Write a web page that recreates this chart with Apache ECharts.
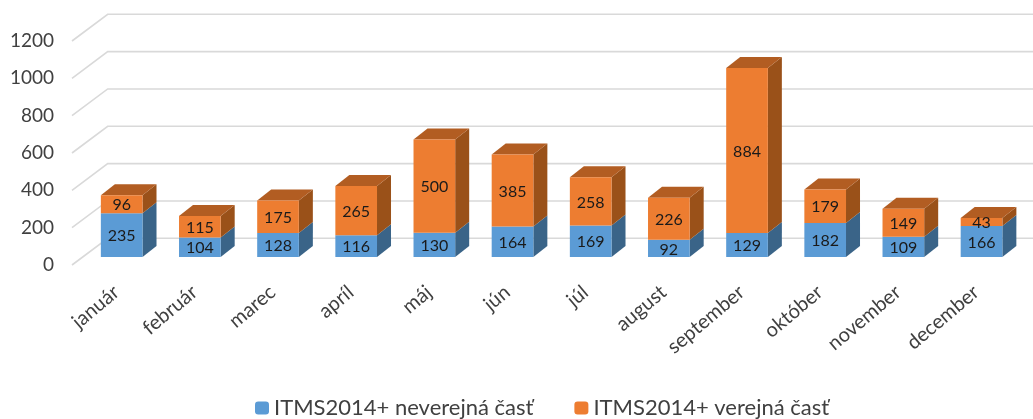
<!DOCTYPE html>
<html lang="sk">
<head>
    <meta charset="UTF-8">
    <title>ITMS2014+</title>
    <script src="https://cdn.jsdelivr.net/npm/echarts@6/dist/echarts.min.js"></script>
    <style>
        html, body { margin: 0; padding: 0; background: #fff; overflow: hidden; }
        #chart { width: 1033px; height: 419px; }
    </style>
</head>
<body>
    <div id="chart"></div>
    <script>
        var months = ['január', 'február', 'marec', 'apríl', 'máj', 'jún', 'júl', 'august', 'september', 'október', 'november', 'december'];
        var neverejna = [235, 104, 128, 116, 130, 164, 169, 92, 129, 182, 109, 166];
        var verejna = [96, 115, 175, 265, 500, 385, 258, 226, 884, 179, 149, 43];
        var yTicks = [0, 200, 400, 600, 800, 1000, 1200];

        var fontName = 'Lato, "Open Sans", sans-serif';
        var textColor = '#404040';

        // pseudo 3D: the grid is the front plane, bars stand a bit deeper, gridlines on the back wall
        var wallDx = 35.7, wallDy = -26.7;
        var barDx = 10.6, barDy = -8;
        var sideDx = 14, sideDy = -11;
        var barRatio = 0.533;

        function gridItem(params, api) {
            var left = params.coordSys.x;
            var right = left + params.coordSys.width;
            var y = api.coord([0, api.value(1)])[1];
            return {
                type: 'polyline',
                shape: { points: [[left, y], [left + wallDx, y + wallDy], [right + wallDx, y + wallDy]] },
                style: { stroke: '#D9D9D9', lineWidth: 1.6, fill: null }
            };
        }

        function barItem(colors, hasTop) {
            return function (params, api) {
                var value = api.value(1);
                var base = api.value(2);
                var bottom = api.coord([api.value(0), base]);
                var top = api.coord([api.value(0), base + value]);
                var w = api.size([1, 0])[0] * barRatio;
                var x0 = bottom[0] + barDx - w / 2;
                var x1 = x0 + w;
                var y0 = bottom[1] + barDy;
                var y1 = top[1] + barDy;
                var children = [
                    {
                        type: 'polygon',
                        shape: { points: [[x1, y0], [x1 + sideDx, y0 + sideDy], [x1 + sideDx, y1 + sideDy], [x1, y1]] },
                        style: { fill: colors.side }
                    }
                ];
                if (hasTop) {
                    children.push({
                        type: 'polygon',
                        shape: { points: [[x0, y1], [x0 + sideDx, y1 + sideDy], [x1 + sideDx, y1 + sideDy], [x1, y1]] },
                        style: { fill: colors.top }
                    });
                }
                children.push({
                    type: 'rect',
                    shape: { x: x0, y: y1, width: w, height: y0 - y1 },
                    style: { fill: colors.front }
                });
                children.push({
                    type: 'text',
                    z2: 10,
                    style: {
                        x: (x0 + x1) / 2,
                        y: (y0 + y1) / 2 + 1,
                        text: String(value),
                        fill: '#1a1a1a',
                        font: '16px ' + fontName,
                        align: 'center',
                        verticalAlign: 'middle'
                    }
                });
                return { type: 'group', children: children };
            };
        }

        var blueData = neverejna.map(function (v, i) { return [i, v, 0]; });
        var orangeData = verejna.map(function (v, i) { return [i, v, neverejna[i]]; });
        var gridData = yTicks.map(function (v) { return [0, v]; });

        var chart = echarts.init(document.getElementById('chart'), null, { renderer: 'canvas' });
        chart.setOption({
            animation: false,
            backgroundColor: '#fff',
            grid: { left: 72, right: 23, top: 41, bottom: 154 },
            legend: {
                data: ['ITMS2014+ neverejná časť', 'ITMS2014+ verejná časť'],
                left: 250,
                top: 392,
                itemWidth: 14,
                itemHeight: 13,
                itemGap: 41,
                textStyle: { fontFamily: fontName, fontSize: 22, color: textColor }
            },
            xAxis: {
                type: 'category',
                data: months,
                axisLine: { show: false },
                axisTick: { show: false },
                axisLabel: { rotate: 40, interval: 0, margin: 29, padding: [0, -7, 0, 0], fontFamily: fontName, fontSize: 20, color: textColor }
            },
            yAxis: {
                type: 'value',
                min: 0,
                max: 1200,
                interval: 200,
                splitLine: { show: false },
                axisLine: { show: false },
                axisTick: { show: false },
                axisLabel: {
                    margin: 18,
                    fontFamily: fontName,
                    fontSize: 19,
                    color: textColor,
                    formatter: function (v) { return String(v); }
                }
            },
            series: [
                {
                    name: 'mriežka',
                    type: 'custom',
                    silent: true,
                    renderItem: gridItem,
                    encode: { x: 0, y: 1 },
                    data: gridData
                },
                {
                    name: 'ITMS2014+ neverejná časť',
                    type: 'custom',
                    itemStyle: { color: '#5B9BD5' },
                    renderItem: barItem({ front: '#5B9BD5', side: '#3A6488' }, false),
                    encode: { x: 0, y: 1 },
                    data: blueData
                },
                {
                    name: 'ITMS2014+ verejná časť',
                    type: 'custom',
                    itemStyle: { color: '#ED7D31' },
                    renderItem: barItem({ front: '#ED7D31', side: '#9A5119', top: '#B25D22' }, true),
                    encode: { x: 0, y: 1 },
                    data: orangeData
                }
            ]
        });
    </script>
</body>
</html>
